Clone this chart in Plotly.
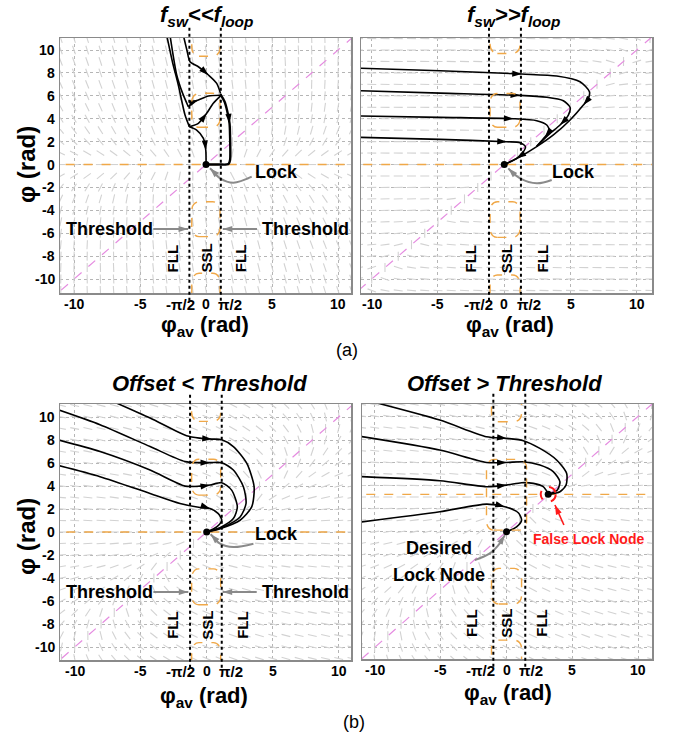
import math
import plotly.graph_objects as go

PAGE_W, PAGE_H = 673, 741
BODY = 0  # page margin is removed by the post script below
FIG_W, FIG_H = PAGE_W - 2 * BODY, PAGE_H - 2 * BODY

# ------------------------------------------------------------------ data
x_ticks = [-10, -5, 0, 5, 10]
x_tick_text = ["-10", "-5", "0", "5", "10"]
y_ticks = [10, 8, 6, 4, 2, 0, -2, -4, -6, -8, -10]
y_tick_text = ["10", "8", "6", "4", "2", "0", "-2", "-4", "-6", "-8", "-10"]
pi_tick_text = ["-π/2", "π/2"]
pi_tick_pos = [-1.95, 1.85]
field_nodes = list(range(-11, 12))

panel_titles = ["<i>f<sub>sw</sub>&lt;&lt;f<sub>loop</sub></i>",
                "<i>f<sub>sw</sub>&gt;&gt;f<sub>loop</sub></i>",
                "<i>Offset &lt; Threshold</i>",
                "<i>Offset &gt; Threshold</i>"]
region_labels = ["FLL", "SSL", "FLL"]

# threshold (dotted black) line positions per panel
a1_thr = [-1.26, 1.12]
a2_thr = [-1.15, 1.26]
b1_thr = [-1.26, 1.14]
b2_thr = [-1.0, 1.42]

# orange nullcline boxes per panel: (x0, x1, y0, y1)
a1_boxes = [(-1.08, 1.06, 9.45, 13.0), (-1.08, 1.06, 3.25, 6.22),
            (-1.08, 1.06, -6.3, -3.25), (-1.08, 1.06, -13.0, -9.5)]
a2_boxes = [(-1.07, 1.19, 9.7, 13.0), (-1.07, 1.19, 3.25, 6.2),
            (-1.07, 1.19, -6.36, -3.25), (-1.07, 1.19, -13.0, -9.65)]
b1_boxes = [(-1.14, 1.06, 9.62, 13.0), (-1.14, 1.06, 3.21, 6.33),
            (-1.14, 1.06, -6.33, -3.21), (-1.14, 1.06, -13.0, -9.62)]
b2_boxes = [(-1.14, 1.14, 9.51, 13.0), (-1.52, 1.52, 0.14, 6.25),
            (-1.14, 1.14, -6.25, -3.17), (-1.14, 1.14, -13.0, -9.37)]
a1_hline, a2_hline, b1_hline, b2_hline = 0.0, 0.0, 0.0, 3.23

# ---- (a) left : f_sw << f_loop
a1_t1_x = [-2.98, -2.55, -2.1, -1.59, -1.26]
a1_t1_y = [11.3, 9.0, 6.94, 4.32, 3.3]
a1_t1d_x = [-1.26, -0.71, -0.2, -0.02, 0.0]
a1_t1d_y = [3.3, 3.01, 2.29, 1.27, 0.0]
a1_t1u_x = [-1.26, -0.58, 0.05, 0.55, 1.1]
a1_t1u_y = [3.3, 3.6, 4.47, 5.35, 6.0]
a1_t2_x = [-2.73, -2.22, -1.8, -1.34]
a1_t2_y = [11.3, 7.82, 6.3, 5.05]
a1_t2r_x = [-1.34, -0.96, -0.58, 0.18, 1.1]
a1_t2r_y = [5.05, 5.48, 5.63, 5.98, 6.05]
a1_t3_x = [-1.72, -1.45, -1.21, -0.58, 0.18, 0.81, 1.1]
a1_t3_y = [11.3, 10.0, 8.98, 8.54, 7.82, 7.09, 6.2]
a1_main_x = [1.1, 1.4, 1.6, 1.78, 1.82, 1.82, 1.7, 1.0, 0.0]
a1_main_y = [6.1, 5.5, 4.7, 3.6, 2.5, 0.4, 0.04, 0.0, 0.0]

# ---- (a) right : f_sw >> f_loop
a2_t1_x = [-11.2, -4.84, 1.32, 3.96, 5.72, 6.43, 6.35, 5.97, 4.97, 3.71, 2.45, 1.19, 0.0]
a2_t1_y = [8.42, 8.19, 7.90, 7.73, 7.23, 6.36, 5.78, 5.19, 3.89, 2.58, 1.56, 0.68, 0.0]
a2_t2_x = [-11.2, -4.84, 1.19, 3.21, 4.46, 4.97, 4.84, 4.21, 3.46, 2.45]
a2_t2_y = [6.46, 6.24, 6.04, 5.87, 5.57, 4.99, 4.32, 3.45, 2.72, 1.6]
a2_t3_x = [-11.2, -4.84, 0.69, 2.45, 3.21, 3.41, 3.08, 2.45]
a2_t3_y = [4.25, 4.12, 4.0, 3.83, 3.45, 2.96, 2.43, 1.6]
a2_t4_x = [-11.2, -4.84, 0.19, 1.19, 1.6, 1.39, 0.94, 0.0]
a2_t4_y = [2.38, 2.2, 1.99, 1.91, 1.56, 1.03, 0.54, 0.0]

# ---- (b) left : Offset < Threshold
b1_t1_x = [-7.2, -4.29, -1.52, -0.51, 0.38, 1.14, 2.02, 3.03, 3.59, 3.41, 2.53, 1.01, 0.0]
b1_t1_y = [11.4, 9.91, 8.37, 8.16, 8.08, 8.02, 7.43, 5.98, 3.94, 2.19, 1.02, 0.29, 0.0]
b1_t2_x = [-11.3, -8.08, -4.29, -1.64, -0.51, 0.25, 1.14, 2.02, 2.78, 2.98, 2.53, 1.26, 0.0]
b1_t2_y = [10.65, 9.33, 7.43, 6.12, 6.03, 6.03, 6.03, 5.39, 3.94, 2.48, 1.31, 0.44, 0.0]
b1_t3_x = [-11.3, -8.08, -4.29, -1.64, -0.51, 0.25, 1.14, 1.89, 2.32, 2.02, 1.01, 0.0]
b1_t3_y = [8.02, 7.0, 5.39, 3.99, 3.99, 4.08, 4.29, 3.64, 2.19, 1.17, 0.38, 0.0]
b1_t4_x = [-11.3, -8.08, -4.29, -2.02, -0.51, 0.25, 0.88, 1.14, 0.76, 0.0]
b1_t4_y = [5.8, 4.81, 3.35, 2.48, 2.13, 2.04, 1.6, 1.02, 0.44, 0.0]

# ---- (b) right : Offset > Threshold
b2_t1_x = [-10.4, -5.06, -1.52, 0.0, 1.27, 2.53, 3.8, 4.56, 4.51, 4.05, 3.2]
b2_t1_y = [11.3, 9.65, 8.21, 8.07, 7.87, 7.2, 6.2, 5.04, 4.03, 3.46, 3.23]
b2_t2_x = [-11.2, -5.06, -1.52, 0.0, 1.27, 2.53, 3.54, 4.05, 3.85, 3.2]
b2_t2_y = [8.26, 7.06, 5.99, 5.99, 6.05, 5.76, 5.19, 4.32, 3.6, 3.23]
b2_t3_x = [-11.2, -5.06, -1.52, 0.0, 1.14, 2.03, 2.78, 3.16]
b2_t3_y = [4.77, 4.41, 3.89, 4.03, 4.24, 4.18, 3.89, 3.3]
b2_t4_x = [-11.2, -5.06, -1.52, -0.13, 0.89, 1.14, 0.76, 0.0]
b2_t4_y = [0.82, 1.73, 2.39, 2.16, 1.64, 1.01, 0.43, 0.0]

lock_x = [0.0]
lock_y = [0.0]
false_lock_x = [3.16]
false_lock_y = [3.23]

# gray pointer curves
a1_lockptr_x = [3.46, 2.07, 1.06, 0.56, 0.3]
a1_lockptr_y = [-1.06, -1.59, -1.21, -0.63, -0.33]
a2_lockptr_x = [3.58, 2.45, 1.19, 0.56, 0.31]
a2_lockptr_y = [-1.35, -1.64, -1.21, -0.63, -0.33]
b1_lockptr_x = [3.54, 2.02, 1.01, 0.5, 0.3]
b1_lockptr_y = [-1.02, -1.31, -1.02, -0.44, -0.2]
b2_lockptr_x = [-2.41, -1.27, -0.51, -0.13]
b2_lockptr_y = [-2.45, -1.87, -1.0, -0.29]
a1_thr_ptr_left_x = [-4.0, -1.36]
a1_thr_ptr_right_x = [3.86, 1.27]
a1_thr_ptr_y = [-5.63, -5.63]
b1_thr_ptr_left_x = [-4.04, -1.39]
b1_thr_ptr_right_x = [3.79, 1.21]
b1_thr_ptr_y = [-5.22, -5.22]
b2_false_ptr_x = [4.35, 3.67]
b2_false_ptr_y = [0.58, 2.31]

# ------------------------------------------------------------------ layout geometry (page pixels)
panels = {
    "a1": dict(xa="x", ya="y", px=(60, 351), py=(38, 293), xr=(-11.06, 10.98), yr=(-11.22, 11.05)),
    "a2": dict(xa="x2", ya="y2", px=(361, 652), py=(38, 293), xr=(-10.81, 11.15), yr=(-11.22, 11.05)),
    "b1": dict(xa="x3", ya="y3", px=(60, 351), py=(404, 660), xr=(-11.11, 10.93), yr=(-11.13, 11.13)),
    "b2": dict(xa="x4", ya="y4", px=(362, 652), py=(404, 659), xr=(-10.96, 11.03), yr=(-11.0, 11.04)),
}
for p in panels.values():
    p["sx"] = (p["px"][1] - p["px"][0]) / (p["xr"][1] - p["xr"][0])
    p["sy"] = (p["py"][1] - p["py"][0]) / (p["yr"][1] - p["yr"][0])
    p["h"] = p["py"][1] - p["py"][0]
    p["w"] = p["px"][1] - p["px"][0]


def pxp(px):  # page x pixel -> paper
    return (px - BODY) / FIG_W


def pyp(py):  # page y pixel -> paper
    return 1 - (py - BODY) / FIG_H


FONT = "Liberation Sans, Arial, sans-serif"
GRAY = "#8a8a8a"
ORANGE = "#f0a848"
PINK = "#e58be0"

fig = go.Figure()


def field_vec(key, X, Y):
    if key == "a1":
        return 0.15 * (Y - X), -Y
    if key == "a2":
        return (Y - X), -0.04 * Y
    if key == "b1":
        return (Y - X), -0.5 * Y
    return (Y - X), -0.5 * (Y - b2_hline)


def add_field(key):
    p = panels[key]
    xs, ys = [], []
    L = 4.5  # half length in px
    for X in field_nodes:
        for Y in field_nodes:
            vx, vy = field_vec(key, X, Y)
            px_, py_ = vx * p["sx"], vy * p["sy"]
            n = math.hypot(px_, py_)
            if n < 1e-9:
                continue
            dx = px_ / n * L / p["sx"]
            dy = py_ / n * L / p["sy"]
            xs += [X - dx, X + dx, None]
            ys += [Y - dy, Y + dy, None]
    fig.add_trace(go.Scatter(x=xs, y=ys, mode="lines", line=dict(color="#d2d2d2", width=1.1),
                             xaxis=p["xa"], yaxis=p["ya"], hoverinfo="skip", showlegend=False))


def arrow_angle(key, dx, dy):
    p = panels[key]
    return math.degrees(math.atan2(dx * p["sx"], dy * p["sy"]))


def add_arrowheads(key, xs, ys, idxs, color="black", size=10):
    p = panels[key]
    ax_, ay_, ang = [], [], []
    for i in idxs:
        j0 = max(i - 1, 0)
        j1 = min(i + 1, len(xs) - 1)
        ang.append(arrow_angle(key, xs[j1] - xs[j0], ys[j1] - ys[j0]))
        ax_.append(xs[i])
        ay_.append(ys[i])
    fig.add_trace(go.Scatter(x=ax_, y=ay_, mode="markers",
                             marker=dict(symbol="arrow", size=size, color=color, angle=ang,
                                         line=dict(width=0)),
                             xaxis=p["xa"], yaxis=p["ya"], hoverinfo="skip", showlegend=False,
                             cliponaxis=False))


def add_traj(key, xs, ys, arrows, width=1.6):
    p = panels[key]
    fig.add_trace(go.Scatter(x=xs, y=ys, mode="lines",
                             line=dict(color="black", width=width, shape="spline", smoothing=0.7),
                             xaxis=p["xa"], yaxis=p["ya"], hoverinfo="skip", showlegend=False))
    if arrows:
        add_arrowheads(key, xs, ys, arrows)


def add_pointer(key, xs, ys, color=GRAY, width=2, spline=True):
    p = panels[key]
    fig.add_trace(go.Scatter(x=xs, y=ys, mode="lines",
                             line=dict(color=color, width=width,
                                       shape="spline" if spline else "linear"),
                             xaxis=p["xa"], yaxis=p["ya"], hoverinfo="skip", showlegend=False))
    n = len(xs) - 1
    ang = arrow_angle(key, xs[n] - xs[n - 1], ys[n] - ys[n - 1])
    fig.add_trace(go.Scatter(x=[xs[n]], y=[ys[n]], mode="markers",
                             marker=dict(symbol="arrow", size=10, color=color, angle=[ang]),
                             xaxis=p["xa"], yaxis=p["ya"], hoverinfo="skip", showlegend=False,
                             cliponaxis=False))


def add_guides(key, hline):
    p = panels[key]
    fig.add_trace(go.Scatter(x=[-12, 12], y=[-12, 12], mode="lines",
                             line=dict(color=PINK, width=1.2, dash="dash"),
                             xaxis=p["xa"], yaxis=p["ya"], hoverinfo="skip", showlegend=False))
    fig.add_trace(go.Scatter(x=[-12, 12], y=[hline, hline], mode="lines",
                             line=dict(color=ORANGE, width=1.4, dash="dash"),
                             xaxis=p["xa"], yaxis=p["ya"], hoverinfo="skip", showlegend=False))


def box_path(x0, x1, y0, y1, rx=0.55, ry=0.75):
    k = 0.45
    return (f"M {x0 + rx},{y0} L {x1 - rx},{y0} "
            f"C {x1 - rx * k},{y0} {x1},{y0 + ry * k} {x1},{y0 + ry} "
            f"L {x1},{y1 - ry} "
            f"C {x1},{y1 - ry * k} {x1 - rx * k},{y1} {x1 - rx},{y1} "
            f"L {x0 + rx},{y1} "
            f"C {x0 + rx * k},{y1} {x0},{y1 - ry * k} {x0},{y1 - ry} "
            f"L {x0},{y0 + ry} "
            f"C {x0},{y0 + ry * k} {x0 + rx * k},{y0} {x0 + rx},{y0} Z")


shapes = []
annotations = []


def add_boxes(key, boxes):
    p = panels[key]
    for (x0, x1, y0, y1) in boxes:
        shapes.append(dict(type="path", path=box_path(x0, x1, y0, y1), xref=p["xa"], yref=p["ya"],
                           line=dict(color=ORANGE, width=1.4, dash="dash"), layer="above"))


def add_thresholds(key, thr):
    p = panels[key]
    for xv in thr:
        shapes.append(dict(type="line", x0=xv, x1=xv, y0=-0.03, y1=1.04,
                           xref=p["xa"], yref=p["ya"] + " domain",
                           line=dict(color="black", width=2, dash="dot"), layer="above"))


def add_text(key, x, y, text, size=18, color="black", angle=0, xanchor="center", bold=True):
    p = panels[key]
    annotations.append(dict(x=x, y=y, xref=p["xa"], yref=p["ya"], text=text, showarrow=False,
                            textangle=angle, xanchor=xanchor, yanchor="middle",
                            font=dict(family=FONT, size=size, color=color,
                                      weight="bold" if bold else "normal")))


def add_paper_text(px, py, text, size, angle=0, weight="bold"):
    annotations.append(dict(x=pxp(px), y=pyp(py), xref="paper", yref="paper", text=text,
                            showarrow=False, textangle=angle, xanchor="center", yanchor="middle",
                            font=dict(family=FONT, size=size, color="black", weight=weight)))


# ------------------------------------------------------------------ build panels
for key in panels:
    add_field(key)

add_guides("a1", a1_hline)
add_guides("a2", a2_hline)
add_guides("b1", b1_hline)
add_guides("b2", b2_hline)

add_boxes("a1", a1_boxes)
add_boxes("a2", a2_boxes)
add_boxes("b1", b1_boxes)
add_boxes("b2", b2_boxes)

add_thresholds("a1", a1_thr)
add_thresholds("a2", a2_thr)
add_thresholds("b1", b1_thr)
add_thresholds("b2", b2_thr)

# trajectories
add_traj("a1", a1_t1_x, a1_t1_y, [])
add_traj("a1", a1_t1d_x, a1_t1d_y, [3])
add_traj("a1", a1_t1u_x, a1_t1u_y, [2])
add_traj("a1", a1_t2_x, a1_t2_y, [])
add_traj("a1", a1_t2r_x, a1_t2r_y, [2])
add_traj("a1", a1_t3_x, a1_t3_y, [4])
add_traj("a1", a1_main_x, a1_main_y, [3], width=2.4)

add_traj("a2", a2_t1_x, a2_t1_y, [2, 7])
add_traj("a2", a2_t2_x, a2_t2_y, [2, 7])
add_traj("a2", a2_t3_x, a2_t3_y, [2, 6])
add_traj("a2", a2_t4_x, a2_t4_y, [2, 6])

add_traj("b1", b1_t1_x, b1_t1_y, [4])
add_traj("b1", b1_t2_x, b1_t2_y, [5])
add_traj("b1", b1_t3_x, b1_t3_y, [5])
add_traj("b1", b1_t4_x, b1_t4_y, [5])

add_traj("b2", b2_t1_x, b2_t1_y, [3])
add_traj("b2", b2_t2_x, b2_t2_y, [3])
add_traj("b2", b2_t3_x, b2_t3_y, [3])
add_traj("b2", b2_t4_x, b2_t4_y, [3])

# lock dots
for key in panels:
    p = panels[key]
    fig.add_trace(go.Scatter(x=lock_x, y=lock_y, mode="markers",
                             marker=dict(color="black", size=7),
                             xaxis=p["xa"], yaxis=p["ya"], hoverinfo="skip", showlegend=False))
fig.add_trace(go.Scatter(x=false_lock_x, y=false_lock_y, mode="markers",
                         marker=dict(color="black", size=7),
                         xaxis="x4", yaxis="y4", hoverinfo="skip", showlegend=False))
p4 = panels["b2"]
rx, ry = 7.5 / p4["sx"], 7.5 / p4["sy"]
shapes.append(dict(type="circle", xref="x4", yref="y4",
                   x0=false_lock_x[0] - rx, x1=false_lock_x[0] + rx,
                   y0=false_lock_y[0] - ry, y1=false_lock_y[0] + ry,
                   line=dict(color="#ff1a1a", width=2, dash="dash"), layer="above"))

# pointers
add_pointer("a1", a1_lockptr_x, a1_lockptr_y)
add_pointer("a2", a2_lockptr_x, a2_lockptr_y)
add_pointer("b1", b1_lockptr_x, b1_lockptr_y)
add_pointer("b2", b2_lockptr_x, b2_lockptr_y)
add_pointer("a1", a1_thr_ptr_left_x, a1_thr_ptr_y, spline=False)
add_pointer("a1", a1_thr_ptr_right_x, a1_thr_ptr_y, spline=False)
add_pointer("b1", b1_thr_ptr_left_x, b1_thr_ptr_y, spline=False)
add_pointer("b1", b1_thr_ptr_right_x, b1_thr_ptr_y, spline=False)
add_pointer("b2", b2_false_ptr_x, b2_false_ptr_y, color="#ff1a1a", width=1.6, spline=False)

# panel texts
add_text("a1", 5.3, -0.65, "Lock")
add_text("a2", 5.22, -0.65, "Lock")
add_text("b1", 5.25, -0.15, "Lock")
add_text("a1", -7.31, -5.63, "Threshold")
add_text("a1", 4.05, -5.63, "Threshold", xanchor="left")
add_text("b1", -7.36, -5.22, "Threshold")
add_text("b1", 4.0, -5.22, "Threshold", xanchor="left")
add_text("b2", -5.14, -1.41, "Desired")
add_text("b2", -5.1, -3.74, "Lock Node")
add_text("b2", 6.25, -0.66, "False Lock Node", size=14, color="#ff1a1a")

region_x = {"a1": [-2.58, 0.0, 2.63], "a2": [-2.58, 0.2, 2.85],
            "b1": [-2.65, 0.0, 2.65], "b2": [-2.71, 0.0, 2.66]}
region_y = {"a1": -8.2, "a2": -8.2, "b1": -8.1, "b2": -7.9}
for key in panels:
    for xv, lab in zip(region_x[key], region_labels):
        add_text(key, xv, region_y[key], lab, size=15, angle=-90)

# tick labels (as text placed through the axes)
TICKFONT = dict(family=FONT, size=14, color="black", weight="bold")
for key in panels:
    p = panels[key]
    yoff = -11.0 / p["h"]
    for xv, lab in zip(x_ticks, x_tick_text):
        annotations.append(dict(x=xv, y=yoff, xref=p["xa"], yref=p["ya"] + " domain", text=lab,
                                showarrow=False, xanchor="center", yanchor="middle", font=TICKFONT))
    for xv, lab in zip(pi_tick_pos, pi_tick_text):
        annotations.append(dict(x=xv, y=yoff, xref=p["xa"], yref=p["ya"] + " domain", text=lab,
                                showarrow=False, xanchor="center", yanchor="middle",
                                font=dict(family=FONT, size=15, color="black", weight="bold")))
    if key in ("a1", "b1"):
        xoff = -3.0 / p["w"]
        for yv, lab in zip(y_ticks, y_tick_text):
            annotations.append(dict(x=xoff, y=yv, xref=p["xa"] + " domain", yref=p["ya"], text=lab,
                                    showarrow=False, xanchor="right", yanchor="middle",
                                    font=TICKFONT))

# titles and axis titles
add_paper_text(206, 16, panel_titles[0], 22)
add_paper_text(513, 16, panel_titles[1], 22)
add_paper_text(209, 383, panel_titles[2], 22)
add_paper_text(504, 383, panel_titles[3], 22)
for (cx, cy) in [(205, 326), (510, 326), (204, 697), (508, 694)]:
    add_paper_text(cx, cy, "φ<sub>av</sub> (rad)", 22)
add_paper_text(26, 165, "φ (rad)", 24, angle=-90)
add_paper_text(26, 537, "φ (rad)", 24, angle=-90)
add_paper_text(347, 350, "(a)", 18, weight="normal")
add_paper_text(354, 722, "(b)", 18, weight="normal")

# ------------------------------------------------------------------ axes
layout_axes = {}
for i, key in enumerate(["a1", "a2", "b1", "b2"]):
    p = panels[key]
    sfx = "" if i == 0 else str(i + 1)
    layout_axes["xaxis" + sfx] = dict(
        domain=[pxp(p["px"][0]), pxp(p["px"][1])], range=list(p["xr"]),
        anchor="y" + sfx, tickvals=x_ticks, showticklabels=False,
        showgrid=True, gridcolor="#b5b5b5", griddash="dot", gridwidth=1,
        zeroline=False, showline=True, linecolor=GRAY, linewidth=1.5, mirror=True,
        ticks="", fixedrange=True)
    layout_axes["yaxis" + sfx] = dict(
        domain=[pyp(p["py"][1]), pyp(p["py"][0])], range=list(p["yr"]),
        anchor="x" + sfx, tickvals=y_ticks, showticklabels=False,
        showgrid=True, gridcolor="#b5b5b5", griddash="dot", gridwidth=1,
        zeroline=False, showline=True, linecolor=GRAY, linewidth=1.5, mirror=True,
        ticks="", fixedrange=True)

fig.update_layout(width=FIG_W, height=FIG_H, margin=dict(l=0, r=0, t=0, b=0),
                  paper_bgcolor="white", plot_bgcolor="white", showlegend=False,
                  hovermode=False,
                  shapes=shapes, annotations=annotations, **layout_axes)

fig.write_html("out.html",
               config={"displayModeBar": False, "staticPlot": True},
               post_script="document.body.style.margin='0px';"
                           "document.body.style.overflow='hidden';")
